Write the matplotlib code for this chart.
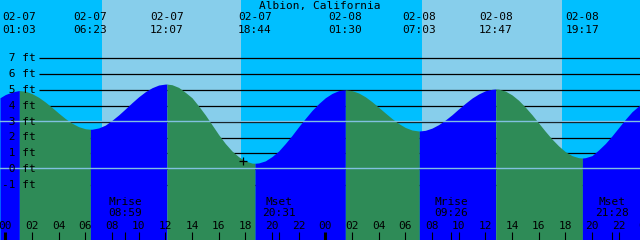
import matplotlib
matplotlib.use("Agg")
import matplotlib.pyplot as plt
import numpy as np

# ---------------------------------------------------------------
# data (hours counted from 02-07 00:00, heights in ft)
# ---------------------------------------------------------------
TITLE = "Albion, California"

extreme_hours = [1.05, 6.38, 12.12, 18.73, 25.50, 31.05, 36.78, 43.28]
extreme_ft = [4.95, 2.52, 5.36, 0.38, 5.00, 2.41, 5.05, 0.71]
extreme_dates = ["02-07", "02-07", "02-07", "02-07", "02-08", "02-08", "02-08", "02-08"]
extreme_times = ["01:03", "06:23", "12:07", "18:44", "01:30", "07:03", "12:47", "19:17"]

sample_hours = [-0.4] + [i / 2 for i in range(96)] + [47.6]
sample_ft = [4.50,
             4.70, 4.86, 4.95, 4.91, 4.76, 4.53, 4.23, 3.89,
             3.53, 3.19, 2.90, 2.68, 2.55, 2.52, 2.60, 2.78,
             3.08, 3.42, 3.80, 4.19, 4.56, 4.88, 5.13, 5.30,
             5.36, 5.32, 5.15, 4.84, 4.50, 3.98, 3.42, 2.80,
             2.18, 1.62, 1.15, 0.79, 0.52, 0.39, 0.40, 0.53,
             0.80, 1.15, 1.62, 2.13, 2.68, 3.20, 3.70, 4.13,
             4.50, 4.77, 4.95, 5.00, 4.95, 4.80, 4.56, 4.25,
             3.90, 3.54, 3.19, 2.88, 2.63, 2.47, 2.41, 2.45,
             2.59, 2.81, 3.10, 3.43, 3.80, 4.15, 4.48, 4.74,
             4.94, 5.03, 5.04, 4.92, 4.68, 4.34, 3.91, 3.43,
             2.91, 2.39, 1.90, 1.47, 1.11, 0.86, 0.73, 0.73,
             0.86, 1.22, 1.62, 2.10, 2.62, 3.14, 3.62, 3.98,
             4.05]

sunrise_hours = [7.23, 31.23]
sunset_hours = [17.65, 41.73]

moon_hours = [8.98, 20.52, 33.43, 45.47]
moon_kind = ["Mrise", "Mset", "Mrise", "Mset"]
moon_times = ["08:59", "20:31", "09:26", "21:28"]

ft_levels = [7, 6, 5, 4, 3, 2, 1, 0, -1]
msl_ft = 3.05
now_hour, now_ft = 17.85, 0.50

# ---------------------------------------------------------------
# colours (xtide style)
# ---------------------------------------------------------------
NIGHT = "#00BFFF"
DAY = "#87CEEB"
FLOOD = "#0000FF"
EBB = "#2E8B57"
MARK = "#80C0E0"

plt.rcParams["font.family"] = "DejaVu Sans Mono"
FS = 8

W, H = 640, 240
PX_PER_H = 13.333
PX_PER_FT = 15.9
T0 = -0.4
Y0FT = 169.3  # pixel row of 0 ft

t_min, t_max = T0, T0 + W / PX_PER_H
ft_top = Y0FT / PX_PER_FT
ft_bot = (Y0FT - H) / PX_PER_FT

fig = plt.figure(figsize=(6.4, 2.4), dpi=100)
ax = fig.add_axes([0, 0, 1, 1])
ax.set_xlim(t_min, t_max)
ax.set_ylim(ft_bot, ft_top)
ax.axis("off")

def ypx(p):
    # pixel row from top -> axes fraction
    return 1 - p / H

# day / night background
ax.axvspan(t_min, t_max, color=NIGHT, zorder=0, lw=0)
for a, b in zip(sunrise_hours, sunset_hours):
    ax.axvspan(a, b, color=DAY, zorder=0.5, lw=0)

# depth lines (behind water), labels on top
x_line0 = T0 + 39 / PX_PER_H
for lv in ft_levels:
    ax.hlines(lv, x_line0, t_max, color="black", lw=0.9, zorder=1)
    ax.text(T0 + 2 / PX_PER_H, lv, f"{lv:2d} ft", fontsize=FS, ha="left", va="center", zorder=5)

# water, coloured by flood / ebb
t_all = np.array(sample_hours + extreme_hours)
f_all = np.array(sample_ft + extreme_ft)
order = np.argsort(t_all, kind="stable")
t_all, f_all = t_all[order], f_all[order]

bounds = [t_min] + extreme_hours + [t_max]
for i in range(len(bounds) - 1):
    a, b = bounds[i], bounds[i + 1]
    m = (t_all >= a - 1e-9) & (t_all <= b + 1e-9)
    col = FLOOD if i % 2 == 0 else EBB
    ax.fill_between(t_all[m], f_all[m], ft_bot - 1, color=col, lw=0, zorder=2)

# mean sea level and datum
ax.axhline(msl_ft, color=MARK, lw=1, zorder=3)
ax.axhline(0.06, color=MARK, lw=1, zorder=3)

# current time mark
ax.plot(now_hour, now_ft, marker="+", color="black", ms=6, mew=0.9, zorder=4)

# title and tide extremes
xt = ax.get_xaxis_transform()
ax.text((t_min + t_max) / 2, ypx(6), TITLE, transform=xt, fontsize=FS,
        ha="center", va="center", zorder=5)
for h, d, s in zip(extreme_hours, extreme_dates, extreme_times):
    ax.text(h, ypx(17), d, transform=xt, fontsize=FS, ha="center", va="center", zorder=5)
    ax.text(h, ypx(30), s, transform=xt, fontsize=FS, ha="center", va="center", zorder=5)

# moon events
for h, k, s in zip(moon_hours, moon_kind, moon_times):
    ax.text(h, ypx(202), k, transform=xt, fontsize=FS, ha="center", va="center", zorder=5)
    ax.text(h, ypx(213), s, transform=xt, fontsize=FS, ha="center", va="center", zorder=5)
    ax.vlines(h, ypx(240), ypx(232), transform=xt, color="black", lw=0.8, zorder=5)

# hour axis
for h in range(0, 50, 2):
    ax.text(h, ypx(226), f"{h % 24:02d}", transform=xt, fontsize=FS,
            ha="center", va="center", zorder=5)
    lw = 2.2 if h % 24 == 0 else 0.8
    ax.vlines(h, ypx(240), ypx(232), transform=xt, color="black", lw=lw, zorder=5)

fig.savefig("out.png", dpi=100)
